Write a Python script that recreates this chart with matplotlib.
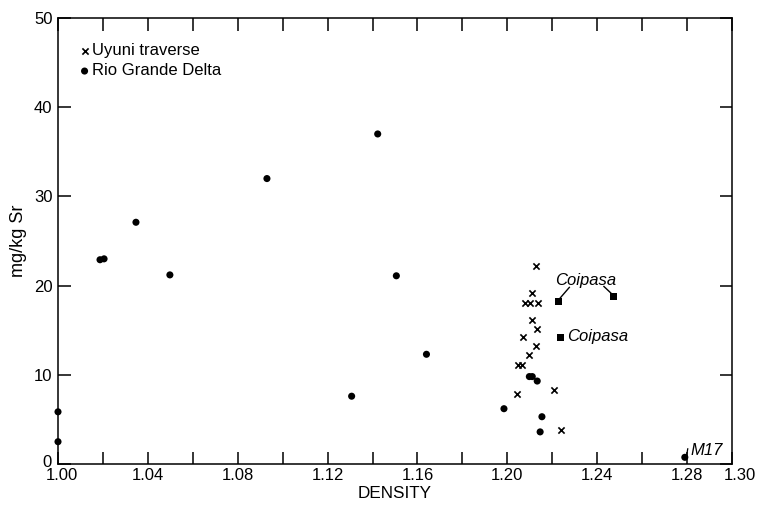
import matplotlib
matplotlib.use("Agg")
import matplotlib.pyplot as plt
import matplotlib.transforms as mtransforms
import numpy as np

plt.rcParams['font.family'] = ['Liberation Sans', 'DejaVu Sans']

# Data
uyuni_density = [1.2127, 1.2111, 1.2078, 1.2101, 1.2138, 1.2108, 1.2130, 1.2071,
                 1.2127, 1.2096, 1.2049, 1.2066, 1.2041, 1.2209, 1.2239]
uyuni_sr = [22.2, 19.2, 18.1, 18.1, 18.1, 16.1, 15.1, 14.2,
            13.2, 12.2, 11.1, 11.1, 7.8, 8.3, 3.8]

rio_density = [1.000, 1.000, 1.0187, 1.0205, 1.0347, 1.0498, 1.093, 1.1307, 1.1423,
               1.1506, 1.164, 1.1985, 1.2098, 1.2111, 1.2133, 1.2146, 1.2154, 1.279]
rio_sr = [5.85, 2.5, 22.9, 23.0, 27.1, 21.2, 32.0, 7.6, 37.0,
          21.1, 12.3, 6.2, 9.8, 9.8, 9.3, 3.6, 5.3, 0.75]

coipasa_density = [1.2228, 1.2471, 1.2235]
coipasa_sr = [18.2, 18.8, 14.2]

x_ticks = [round(1.00 + 0.02 * i, 2) for i in range(16)]
x_labels_shown = ["1.00", "1.04", "1.08", "1.12", "1.16", "1.20", "1.24", "1.28", "1.30"]
y_ticks = [0, 10, 20, 30, 40, 50]

fig = plt.figure(figsize=(7.59, 5.07), dpi=100)
ax = fig.add_axes([58 / 759, 1 - 464 / 507, 674 / 759, 446 / 507])

ux = ax.scatter(uyuni_density, uyuni_sr, marker='x', s=20, linewidths=1.2,
                color='black', label='Uyuni traverse', zorder=3)
rd = ax.scatter(rio_density, rio_sr, marker='o', s=26, color='black',
                edgecolors='none', label='Rio Grande Delta', zorder=3, clip_on=False)
ax.scatter(coipasa_density, coipasa_sr, marker='s', s=24, color='black',
           edgecolors='none', zorder=3)

# annotations
ax.text(1.2213, 20.6, "Coipasa", fontsize=12, style='italic', ha='left', va='center')
ax.plot([1.2228, 1.2276], [18.4, 19.8], color='black', lw=1.0)
ax.plot([1.2468, 1.2430], [19.0, 19.9], color='black', lw=1.0)
ax.text(1.2264, 14.3, "Coipasa", fontsize=12, style='italic', ha='left', va='center')
ax.text(1.2815, 1.55, "M17", fontsize=12, style='italic', ha='left', va='center')
ax.plot([1.2797, 1.2803], [0.8, 1.7], color='black', lw=0.9)

ax.set_xlim(1.00, 1.30)
ax.set_ylim(0, 50)

ax.set_xticks(x_ticks)
ax.set_xticklabels([("%.2f" % t) if ("%.2f" % t) in x_labels_shown else "" for t in x_ticks])
ax.set_yticks(y_ticks)
ax.set_yticklabels([str(v) for v in y_ticks])

ax.tick_params(axis='both', direction='in', length=9, width=1.1, labelsize=12,
               colors='black', top=True, right=True)
ax.tick_params(axis='x', pad=3)
ax.tick_params(axis='y', pad=4)

for s in ax.spines.values():
    s.set_linewidth(1.1)

# small offsets of end labels, as in the reference
xlabels = ax.get_xticklabels()
xlabels[0].set_transform(xlabels[0].get_transform() +
                         mtransforms.ScaledTranslation(4 / 100, 0, fig.dpi_scale_trans))
xlabels[-1].set_transform(xlabels[-1].get_transform() +
                          mtransforms.ScaledTranslation(8 / 100, 0, fig.dpi_scale_trans))
ylabels = ax.get_yticklabels()
ylabels[0].set_transform(ylabels[0].get_transform() +
                         mtransforms.ScaledTranslation(-1 / 100, 3 / 100, fig.dpi_scale_trans))

ax.set_xlabel("DENSITY", fontsize=12.3, labelpad=2)
ax.set_ylabel("mg/kg Sr", fontsize=13, labelpad=5)

ax.legend(handles=[ux, rd], loc='upper left', bbox_to_anchor=(0.032, 0.943),
          frameon=False, fontsize=12, handlelength=0.6, handletextpad=0.15,
          borderpad=0, borderaxespad=0, labelspacing=0.3, scatterpoints=1)

fig.savefig("out.png", dpi=100)
